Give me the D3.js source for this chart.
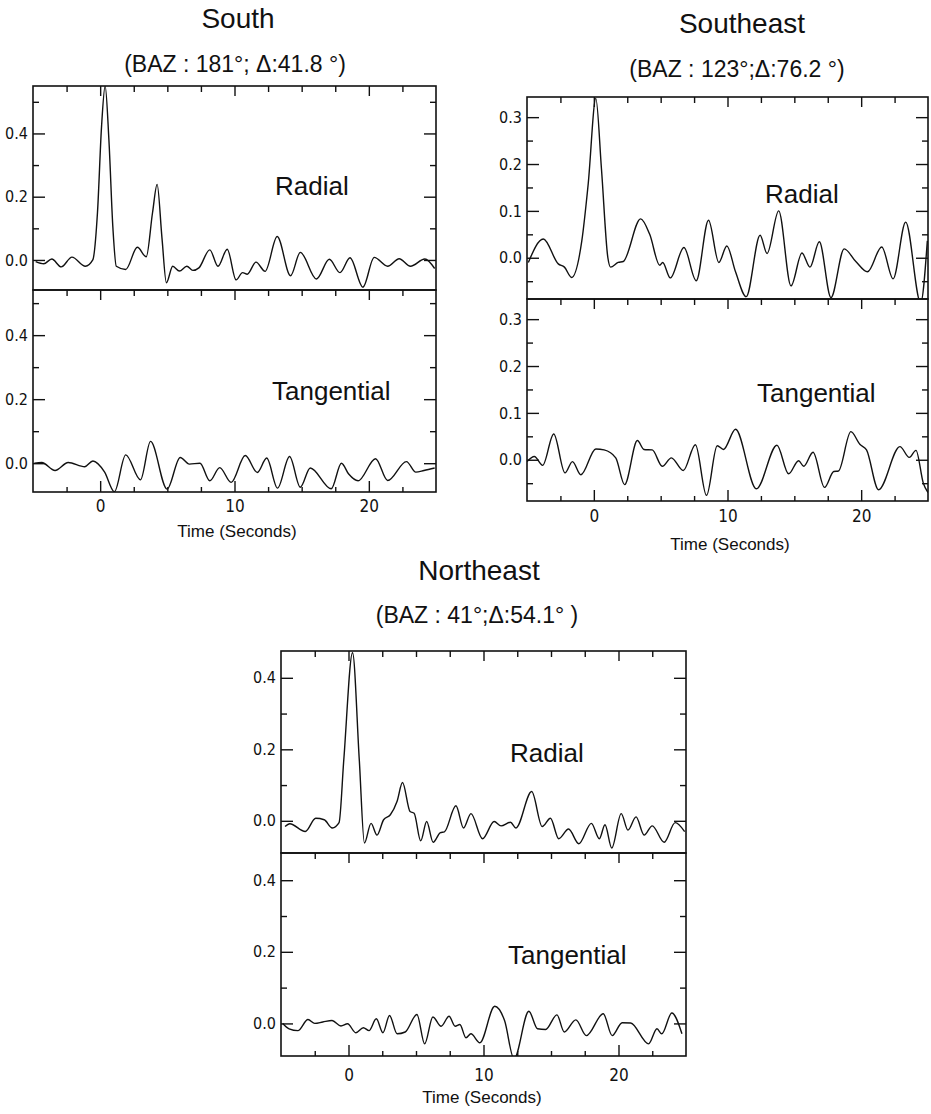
<!DOCTYPE html>
<html><head><meta charset="utf-8">
<script src="https://cdn.jsdelivr.net/npm/d3@7"></script>
<style>
body{margin:0;background:#fff}
svg{display:block}
.tick text{font-family:"Liberation Sans Narrow","DejaVu Sans Condensed","Liberation Sans",sans-serif;fill:#111}
.ttl{font-family:"Liberation Sans",Arial,sans-serif;fill:#111}
</style></head><body>
<svg id="c" width="931" height="1114"></svg>
<script>
// ---------- data ----------
const timeDomain = [-5, 25];
const xLabelTicks = [0, 10, 20];
const xMinorTicks = [-2.5, 2.5, 5, 7.5, 12.5, 15, 17.5, 22.5];

const southRadialTime = [-4.8,-4.2,-3.6,-2.9,-2.1,-1.1,-0.55,-0.2,0.1,0.37,0.65,0.95,1.2,1.9,2.77,3.43,3.9,4.24,4.6,4.93,5.4,5.9,6.45,6.9,7.35,8.16,8.77,9.46,10.12,10.6,10.95,11.6,12.28,13.18,14.17,14.9,16.1,17.06,17.85,18.6,19.56,20.4,21.4,22.26,23.1,24.17,24.9];
const southRadialAmp  = [-0.005,-0.012,0.003,-0.022,0.009,-0.02,0.0,0.15,0.42,0.55,0.38,0.1,-0.02,-0.03,0.04,0.01,0.15,0.239,0.07,-0.072,-0.02,-0.035,-0.02,-0.033,-0.025,0.032,-0.02,0.034,-0.063,-0.04,-0.045,-0.007,-0.036,0.074,-0.05,0.024,-0.06,0.002,-0.04,0.007,-0.086,0.008,-0.02,0.004,-0.02,0.003,-0.027];

const southTangTime = [-4.9,-4.35,-3.36,-2.38,-1.15,-0.54,0.32,1.06,1.9,3.0,3.75,4.98,5.96,6.64,7.43,8.16,8.9,9.75,10.8,11.7,12.4,13.2,14.1,14.9,15.64,17.2,17.96,18.5,19.2,20.5,21.4,22.8,23.5,24.1,24.9];
const southTangAmp  = [0.0,0.002,-0.023,0.002,-0.011,0.007,-0.027,-0.089,0.026,-0.052,0.068,-0.081,0.018,-0.003,0.0,-0.055,-0.014,-0.06,0.024,-0.029,0.016,-0.078,0.021,-0.075,-0.015,-0.08,0.0,-0.034,-0.055,0.014,-0.054,0.005,-0.028,-0.023,-0.015];

const southeastRadialTime = [-4.9,-3.78,-2.66,-2.2,-1.66,-0.9,-0.42,0.15,0.57,1.05,1.25,1.82,2.2,3.5,4.18,4.93,5.15,5.72,6.74,7.66,8.58,9.35,9.95,10.6,11.4,12.44,12.96,13.83,14.75,15.57,16.17,16.87,17.74,18.73,19.6,20.47,21.54,22.39,23.33,24.45,24.95];
const southeastRadialAmp  = [-0.01,0.04,-0.013,-0.02,-0.042,0.036,0.158,0.34,0.19,0.0,-0.02,-0.01,-0.008,0.083,0.05,-0.016,-0.01,-0.043,0.022,-0.049,0.08,-0.01,0.025,-0.03,-0.083,0.048,0.009,0.1,-0.06,0.01,-0.02,0.034,-0.085,0.019,-0.008,-0.03,0.023,-0.045,0.076,-0.096,0.036];

const southeastTangTime = [-5.0,-4.45,-3.83,-3.0,-2.16,-1.6,-0.97,0.15,0.77,1.64,2.3,3.26,3.75,4.37,5.12,5.8,6.69,7.6,8.43,9.23,9.7,10.6,12.16,13.7,14.57,15.32,15.7,16.4,17.26,17.95,18.3,19.23,19.9,20.4,21.3,22.9,23.6,24.1,24.65,25.0];
const southeastTangAmp  = [-0.004,0.007,-0.012,0.055,-0.028,-0.004,-0.032,0.023,0.021,0.004,-0.053,0.041,0.022,0.021,-0.014,0.004,-0.023,0.032,-0.076,0.03,0.022,0.065,-0.062,0.031,-0.03,-0.002,-0.014,0.016,-0.059,-0.025,-0.024,0.06,0.033,0.021,-0.064,0.028,0.005,0.02,-0.05,-0.07];

const northeastRadialTime = [-4.7,-4.35,-3.2,-2.43,-1.8,-1.2,-0.7,-0.35,0.3,0.8,1.18,1.67,2.11,2.6,3.1,3.6,4.0,4.56,4.86,5.35,5.79,6.27,6.81,7.1,7.96,8.52,9.07,9.93,10.79,11.3,12.0,12.4,13.57,14.35,14.96,15.57,16.3,17.06,17.99,18.58,19.0,19.5,20.2,20.7,21.3,21.9,22.5,23.38,24.2,24.9];
const northeastRadialAmp  = [-0.016,-0.008,-0.03,0.007,0.003,-0.02,-0.005,0.17,0.47,0.17,-0.062,-0.007,-0.04,0.003,0.017,0.055,0.107,0.026,0.021,-0.056,-0.002,-0.06,-0.033,-0.031,0.042,-0.02,0.02,-0.05,-0.002,-0.014,-0.004,-0.02,0.082,-0.016,0.007,-0.05,-0.023,-0.064,-0.007,-0.05,-0.011,-0.076,0.02,-0.026,0.011,-0.04,-0.014,-0.06,-0.005,-0.03];

const northeastTangTime = [-4.87,-4.4,-3.75,-3.0,-2.5,-1.9,-1.22,-0.56,-0.07,0.54,1.1,1.52,2.06,2.55,3.04,3.6,4.2,5.07,5.64,6.25,6.86,7.45,7.9,8.25,8.7,9.07,9.73,10.83,11.56,12.26,13.36,14.0,14.6,15.44,15.98,16.84,17.62,18.87,19.53,20.27,20.9,22.23,22.85,23.2,23.95,24.7];
const northeastTangAmp  = [0.0,-0.015,-0.02,0.011,0.0,0.004,0.008,-0.007,-0.001,-0.026,-0.012,-0.02,0.013,-0.026,0.022,-0.029,-0.024,0.025,-0.057,0.018,-0.008,0.02,-0.008,-0.003,-0.04,-0.029,-0.054,0.048,0.008,-0.099,0.034,-0.015,-0.017,0.024,-0.024,0.01,-0.034,0.027,-0.034,0.002,0.001,-0.057,-0.015,-0.029,0.029,-0.029];

const titles = ["South", "Southeast", "Northeast"];
const subtitles = ["(BAZ : 181°; Δ:41.8 °)", "(BAZ : 123°;Δ:76.2 °)", "(BAZ : 41°;Δ:54.1° )"];
const componentLabels = ["Radial", "Tangential"];
const xAxisTitle = "Time (Seconds)";

// ---------- layout ----------
const panels = [
  {title:0, tX:238, tY:28, sX:235, sY:72, left:33, right:436, top:86, mid:290, bottom:492,
   yR:[-0.095,0.55], yT:[-0.09,0.541], yLab:[0,0.2,0.4], yMin:[0.1,0.3,0.5],
   R:[southRadialTime,southRadialAmp], T:[southTangTime,southTangAmp],
   labR:[275,195], labT:[272,400], xLabDy:21, timeX:237, timeY:537},
  {title:1, tX:742, tY:33, sX:737, sY:77, left:527, right:928, top:97, mid:299, bottom:501,
   yR:[-0.088,0.343], yT:[-0.088,0.343], yLab:[0,0.1,0.2,0.3], yMin:[-0.05,0.05,0.15,0.25],
   R:[southeastRadialTime,southeastRadialAmp], T:[southeastTangTime,southeastTangAmp],
   labR:[765,203], labT:[757,402], xLabDy:22, timeX:730, timeY:550},
  {title:2, tX:479, tY:580, sX:477, sY:623, left:281, right:686, top:651, mid:853, bottom:1056,
   yR:[-0.09,0.475], yT:[-0.091,0.476], yLab:[0,0.2,0.4], yMin:[0.1,0.3],
   R:[northeastRadialTime,northeastRadialAmp], T:[northeastTangTime,northeastTangAmp],
   labR:[510,762], labT:[508,964], xLabDy:26, timeX:482, timeY:1103}
];

const svg = d3.select("#c");
const ink = "#111";
const fmt = d3.format(".1f");

function clean(g){
  g.select(".domain").remove();
  g.attr("font-family", null).attr("font-size", null);
  g.selectAll(".tick line").attr("stroke", ink).attr("stroke-width", 1.4);
}

panels.forEach((p, pi) => {
  const x = d3.scaleLinear().domain(timeDomain).range([p.left, p.right]);
  svg.append("text").attr("class","ttl").attr("x",p.tX).attr("y",p.tY)
     .attr("text-anchor","middle").attr("font-size",28).text(titles[p.title]);
  svg.append("text").attr("class","ttl").attr("x",p.sX).attr("y",p.sY)
     .attr("text-anchor","middle").attr("font-size",23).text(subtitles[p.title]);

  const subs = [
    {top:p.top, bottom:p.mid, dom:p.yR, data:p.R, lab:p.labR, name:componentLabels[0], last:false},
    {top:p.mid, bottom:p.bottom, dom:p.yT, data:p.T, lab:p.labT, name:componentLabels[1], last:true}
  ];
  subs.forEach((s, si) => {
    const y = d3.scaleLinear().domain(s.dom).range([s.bottom, s.top]);
    const id = `clip${pi}_${si}`;
    svg.append("clipPath").attr("id", id).append("rect")
       .attr("x", p.left).attr("y", s.top).attr("width", p.right - p.left).attr("height", s.bottom - s.top);

    // x ticks on the top edge (inward)
    svg.append("g").attr("transform",`translate(0,${s.top})`)
       .call(d3.axisTop(x).tickValues(xMinorTicks).tickSize(-6).tickFormat("")).call(clean);
    svg.append("g").attr("transform",`translate(0,${s.top})`)
       .call(d3.axisTop(x).tickValues(xLabelTicks).tickSize(-10).tickFormat("")).call(clean);
    if (s.last) {
      svg.append("g").attr("transform",`translate(0,${s.bottom})`)
         .call(d3.axisBottom(x).tickValues(xMinorTicks).tickSize(-5).tickFormat("")).call(clean);
      const gb = svg.append("g").attr("transform",`translate(0,${s.bottom})`)
         .call(d3.axisBottom(x).tickValues(xLabelTicks).tickSize(-11).tickPadding(p.xLabDy - 13).tickFormat(d3.format("d")))
         .call(clean);
      gb.selectAll("text").attr("font-size", 17).attr("dy", "0.71em");
    }
    // y ticks left (labels) and right
    svg.append("g").attr("transform",`translate(${p.left},0)`)
       .call(d3.axisLeft(y).tickValues(p.yMin).tickSize(-6).tickFormat("")).call(clean);
    const gl = svg.append("g").attr("transform",`translate(${p.left},0)`)
       .call(d3.axisLeft(y).tickValues(p.yLab).tickSize(-12).tickPadding(5).tickFormat(fmt)).call(clean);
    gl.selectAll("text").attr("font-size", 16);
    svg.append("g").attr("transform",`translate(${p.right},0)`)
       .call(d3.axisRight(y).tickValues(p.yMin).tickSize(-6).tickFormat("")).call(clean);
    svg.append("g").attr("transform",`translate(${p.right},0)`)
       .call(d3.axisRight(y).tickValues(p.yLab).tickSize(-12).tickFormat("")).call(clean);

    // frame
    svg.append("rect").attr("x",p.left).attr("y",s.top).attr("width",p.right-p.left).attr("height",s.bottom-s.top)
       .attr("fill","none").attr("stroke",ink).attr("stroke-width",1.6);

    // trace
    const pts = d3.zip(s.data[0], s.data[1]);
    svg.append("path").datum(pts).attr("clip-path",`url(#${id})`)
       .attr("fill","none").attr("stroke",ink).attr("stroke-width",1.4).attr("stroke-linejoin","round")
       .attr("d", d3.line().x(d=>x(d[0])).y(d=>y(d[1])).curve(d3.curveMonotoneX));

    svg.append("text").attr("class","ttl").attr("x",s.lab[0]).attr("y",s.lab[1])
       .attr("font-size",26).text(s.name);
  });
  svg.append("text").attr("class","ttl").attr("x",p.timeX).attr("y",p.timeY)
     .attr("text-anchor","middle").attr("font-size",17).text(xAxisTitle);
});
</script>
</body></html>
